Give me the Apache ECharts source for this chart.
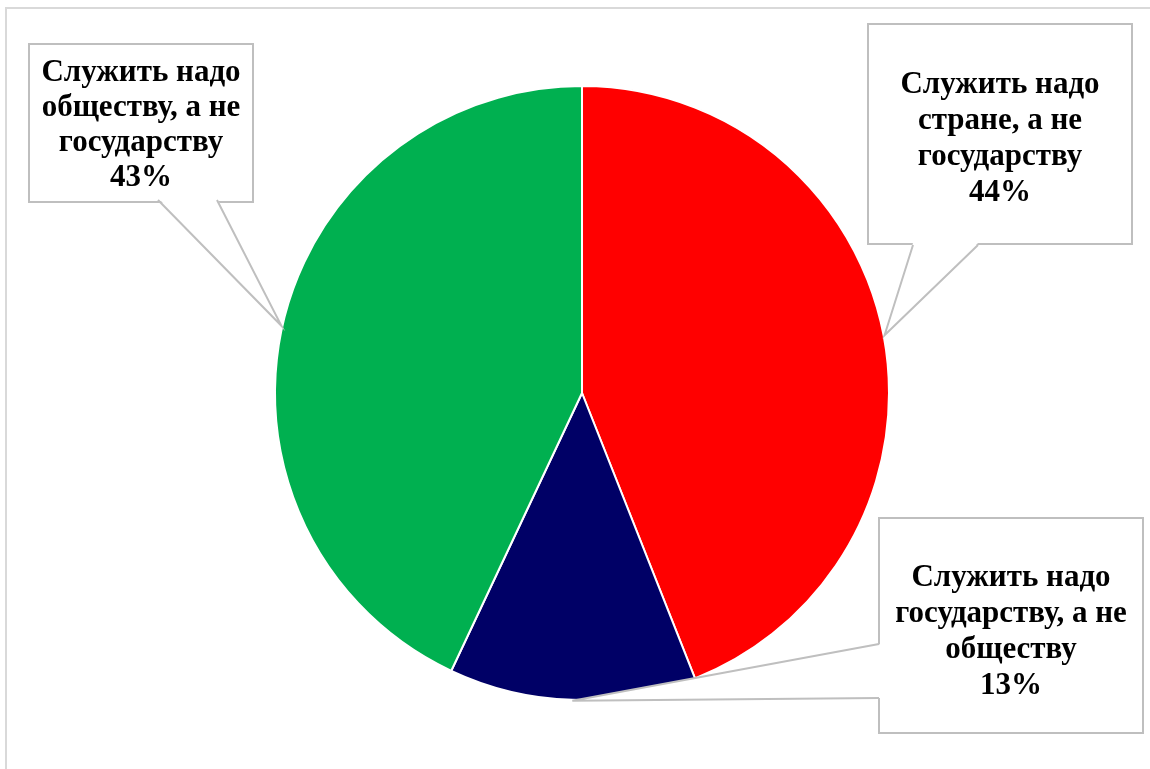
<!DOCTYPE html>
<html><head><meta charset="utf-8">
<script src="https://cdn.jsdelivr.net/npm/echarts@6/dist/echarts.min.js"></script>
<style>
html,body{margin:0;padding:0;background:#fff;overflow:hidden;}
#frame{position:absolute;left:5px;top:7px;width:1300px;height:900px;border-left:2px solid #D9D9D9;border-top:2px solid #D9D9D9;}
#chart{position:absolute;left:0;top:0;width:1150px;height:769px;}
</style></head><body>
<div id="frame"></div>
<div id="chart"></div>
<script>
// ---- data ----
const categories = [
  'Служить надо\nстране, а не\nгосударству',
  'Служить надо\nгосударству, а не\nобществу',
  'Служить надо\nобществу, а не\nгосударству'
];
const values = [44, 13, 43];
const sliceColors = ['#FF0000', '#000066', '#00B050'];

// ---- layout (label callout boxes) ----
const CENTER = [582, 393];
const RADIUS = 307;
const boxes = [
  {cx: 1000, top: 25,  w: 264, lh: 36, pad: [42, 0, 32, 0], base: [[913, 245], [978, 245]], inward: [0, -1]},
  {cx: 1011, top: 519, w: 264, lh: 36, pad: [41, 0, 28, 0], base: [[879, 644], [879, 698]], inward: [1, 0]},
  {cx: 141,  top: 45,  w: 224, lh: 35, pad: [10, 0, 6, 0],  base: [[158, 200], [217, 200]], inward: [0, -1]}
];
const BOX_BORDER = '#BFBFBF';

const chart = echarts.init(document.getElementById('chart'), null, {renderer: 'canvas'});

const seriesData = values.map((v, i) => ({
  value: v,
  name: categories[i],
  itemStyle: {color: sliceColors[i]},
  label: {
    width: boxes[i].w - 2,
    lineHeight: boxes[i].lh,
    padding: boxes[i].pad
  }
}));

// wedge apex points derived from the data (slice mid-angle on the pie rim)
const total = values.reduce((a, b) => a + b, 0);
let cum = 0;
const graphics = [];
values.forEach((v, i) => {
  const mid = (cum + v / 2) / total * 2 * Math.PI;
  cum += v;
  const r = RADIUS + 1;
  const apex = [CENTER[0] + r * Math.sin(mid), CENTER[1] - r * Math.cos(mid)];
  const b = boxes[i].base, d = boxes[i].inward;
  const inner = b.map(p => [p[0] + d[0] * 2, p[1] + d[1] * 2]);
  graphics.push({
    type: 'polygon', z: 100, silent: true,
    shape: {points: [inner[0], apex, inner[1]]},
    style: {fill: '#ffffff'}
  });
  graphics.push({
    type: 'polyline', z: 101, silent: true,
    shape: {points: [b[0], apex, b[1]]},
    style: {stroke: BOX_BORDER, lineWidth: 2, fill: null}
  });
});

chart.setOption({
  backgroundColor: 'transparent',
  animation: false,
  series: [{
    type: 'pie',
    center: CENTER,
    radius: RADIUS,
    startAngle: 90,
    clockwise: true,
    avoidLabelOverlap: false,
    itemStyle: {borderColor: '#ffffff', borderWidth: 2},
    label: {
      show: true,
      position: 'outside',
      formatter: '{b}\n{c}%',
      fontFamily: '"Liberation Serif", "Times New Roman", serif',
      fontWeight: 'bold',
      fontSize: 31,
      color: '#000000',
      align: 'center',
      backgroundColor: '#ffffff',
      borderColor: BOX_BORDER,
      borderWidth: 2
    },
    labelLine: {show: false},
    labelLayout: function (params) {
      const b = boxes[params.dataIndex];
      return {x: b.cx, y: b.top, align: 'center', verticalAlign: 'top'};
    },
    emphasis: {disabled: true},
    data: seriesData
  }],
  graphic: graphics
});
</script>
</body></html>
